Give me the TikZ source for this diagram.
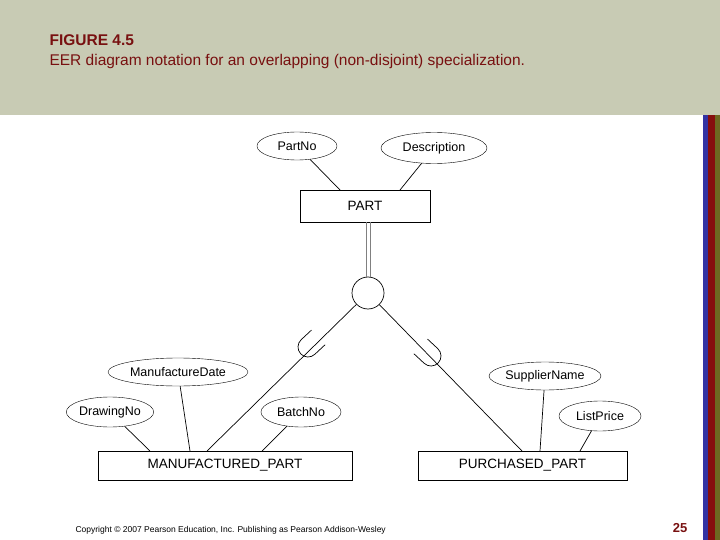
\documentclass[tikz,border=0pt]{standalone}
\usepackage{fontspec}
\setmainfont{Liberation Sans}
\usetikzlibrary{shapes.geometric}
\definecolor{hdr}{RGB}{200,203,180}
\definecolor{ttl}{RGB}{120,16,16}
\tikzset{
  attr/.style={draw,ellipse,inner sep=0pt,font=\fontsize{12.5}{14}\selectfont},
  ent/.style={draw,rectangle,inner sep=0pt,font=\fontsize{13.5}{15}\selectfont},
  ln/.style={line width=0.7pt}
}
\begin{document}
\begin{tikzpicture}[x=1pt,y=-1pt]
\useasboundingbox (0,0) rectangle (720,540);
\fill[hdr] (0,0) rectangle (720,115);
\fill[blue!55!black!80] (703,115) rectangle (708,540);
\fill[ttl!90!red] (708,115) rectangle (715,540);
\fill[olive!70!black] (715,115) rectangle (720,540);
\node[anchor=west,text=ttl,font=\bfseries\fontsize{15.5}{17}\selectfont] (t1) at (46,40) {FIGURE 4.5};
\node[anchor=west,text=ttl,font=\fontsize{15.5}{17}\selectfont] (t2) at (46,61) {EER diagram notation for an overlapping (non-disjoint) specialization.};
\node[ent,minimum width=130,minimum height=32] (part) at (365,206) {PART};
\node[attr,minimum width=80,minimum height=28] (pno) at (297,146) {PartNo};
\node[attr,minimum width=106,minimum height=31] (desc) at (434,148) {Description};
\draw[ln] (pno) -- (340,190);
\draw[ln] (desc) -- (400,190);
\node[draw,ln,circle,minimum size=32,inner sep=0pt] (o) at (368,293) {};
\draw[line width=0.7pt,gray] (366,222) -- ([xshift=-2pt]o.north);
\draw[line width=0.7pt,gray] (370,222) -- ([xshift=2pt]o.north);
\node[ent,minimum width=254,minimum height=29] (mp) at (225,465.5) {MANUFACTURED\_PART};
\node[ent,minimum width=209,minimum height=29] (pp) at (522.5,465.5) {PURCHASED\_PART};
\coordinate (ml) at (207,451);
\coordinate (pr) at (522,451);
\draw[ln] (o) -- (ml);
\draw[ln] (o) -- (pr);
\begin{scope}[shift={(308,347)},rotate=43,x=1pt,y=1pt]
\draw[ln] (14,-10) -- (0,-10) arc[start angle=270,end angle=90,radius=10] -- (14,10);
\end{scope}
\begin{scope}[shift={(431,356)},rotate=137,x=1pt,y=1pt]
\draw[ln] (14,-10) -- (0,-10) arc[start angle=270,end angle=90,radius=10] -- (14,10);
\end{scope}
\node[attr,minimum width=140,minimum height=28] (md) at (178,372) {ManufactureDate};
\node[attr,minimum width=80,minimum height=30] (dn) at (110,412) {DrawingNo};
\node[attr,minimum width=80,minimum height=30] (bn) at (301,412) {BatchNo};
\node[attr,minimum width=112,minimum height=28] (sn) at (545,376) {SupplierName};
\node[attr,minimum width=82,minimum height=30] (lp) at (600,416) {ListPrice};
\draw[ln] (dn) -- (150,451);
\draw[ln] (md) -- (190,451);
\draw[ln] (bn) -- (262,451);
\draw[ln] (sn) -- (540,451);
\draw[ln] (lp) -- (580,451);
\node[anchor=west,font=\fontsize{8.5}{10}\selectfont] (cp) at (72,530) {Copyright © 2007 Pearson Education, Inc. Publishing as Pearson Addison-Wesley};
\node[text=ttl,font=\bfseries\fontsize{13}{15}\selectfont] (pg) at (680,528) {25};
\end{tikzpicture}
\end{document}
